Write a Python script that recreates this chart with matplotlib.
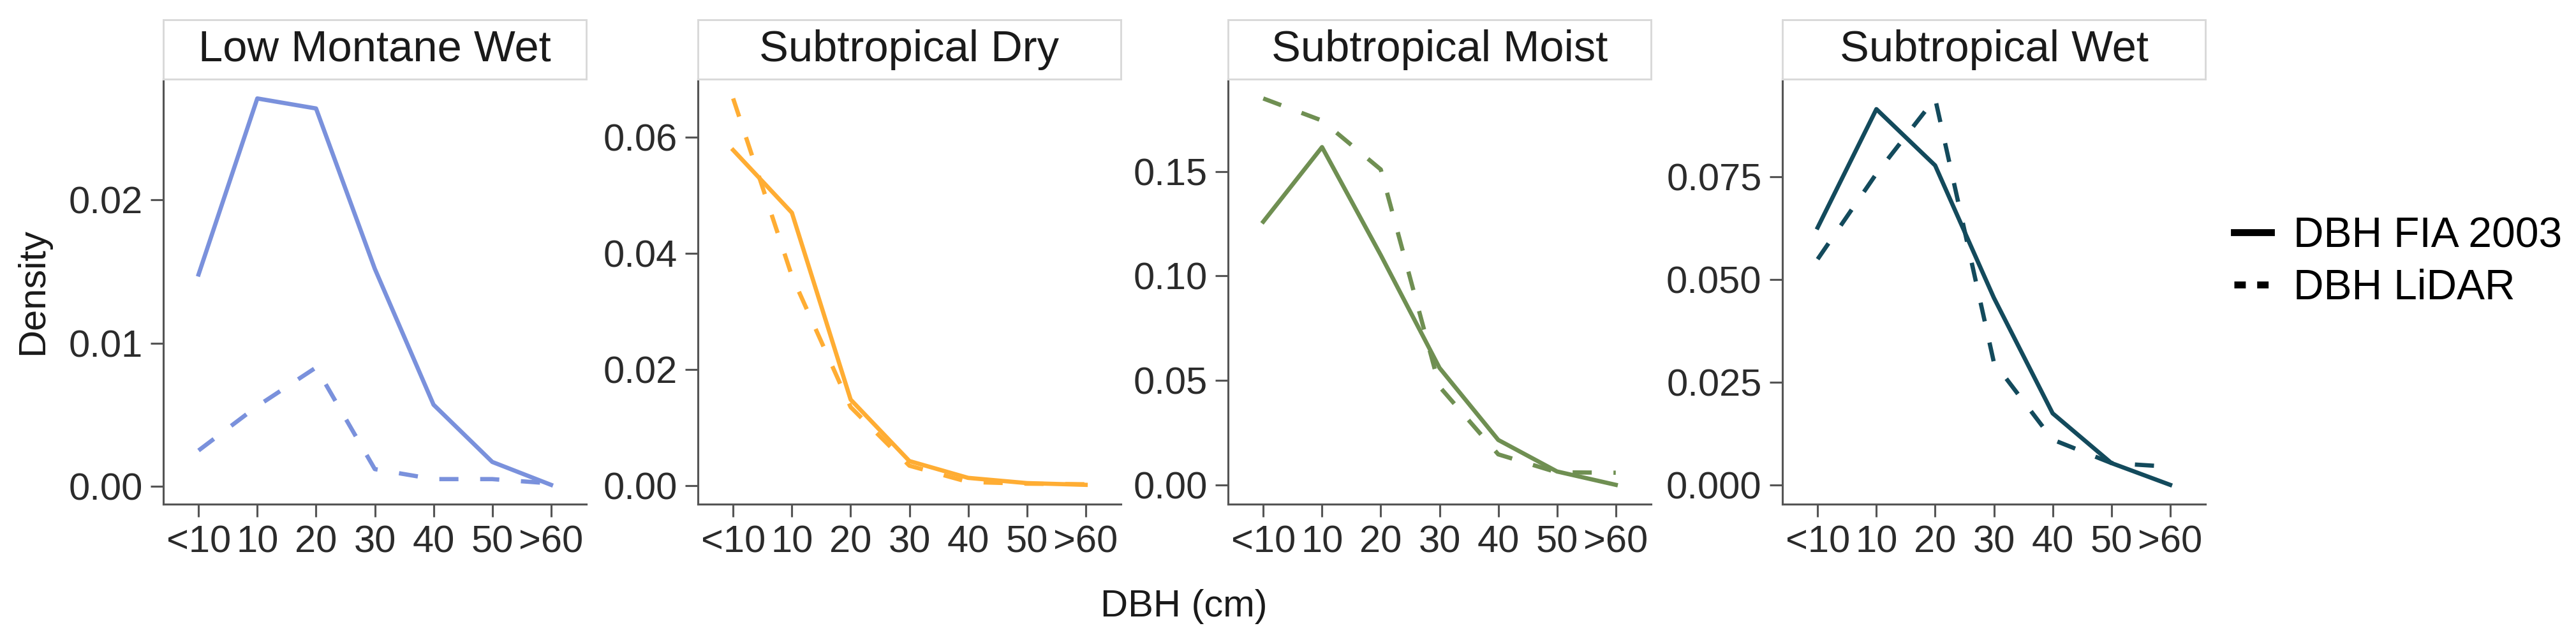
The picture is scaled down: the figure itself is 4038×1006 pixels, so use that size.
import matplotlib
matplotlib.use('Agg')
import matplotlib.pyplot as plt
from matplotlib.lines import Line2D
from matplotlib.ticker import FormatStrFormatter

plt.rcParams['font.family'] = ['Liberation Sans', 'DejaVu Sans']

# data
dbh_classes = ['<10', '10', '20', '30', '40', '50', '>60']
zones = ['Low Montane Wet', 'Subtropical Dry', 'Subtropical Moist', 'Subtropical Wet']

fia_low_montane_wet = [0.0148, 0.0271, 0.0264, 0.0152, 0.0057, 0.0017, 0.0001]
lidar_low_montane_wet = [0.0025, 0.0056, 0.0083, 0.0012, 0.0005, 0.0005, 0.0002]

fia_subtropical_dry = [0.0578, 0.0470, 0.0148, 0.0042, 0.0013, 0.0004, 0.0001]
lidar_subtropical_dry = [0.0667, 0.0361, 0.0135, 0.0034, 0.0006, 0.0003, 0.0002]

fia_subtropical_moist = [0.126, 0.1617, 0.110, 0.056, 0.0215, 0.0064, 0.0]
lidar_subtropical_moist = [0.185, 0.1744, 0.151, 0.047, 0.0146, 0.0060, 0.0058]

fia_subtropical_wet = [0.0626, 0.0914, 0.0777, 0.0455, 0.0174, 0.0053, 0.0]
lidar_subtropical_wet = [0.0549, 0.0757, 0.0940, 0.0298, 0.0110, 0.0053, 0.0044]

fia_series = [fia_low_montane_wet, fia_subtropical_dry, fia_subtropical_moist, fia_subtropical_wet]
lidar_series = [lidar_low_montane_wet, lidar_subtropical_dry, lidar_subtropical_moist, lidar_subtropical_wet]

y_ticks = [
    [0.00, 0.01, 0.02],
    [0.00, 0.02, 0.04, 0.06],
    [0.00, 0.05, 0.10, 0.15],
    [0.000, 0.025, 0.050, 0.075],
]
y_formats = ['%.2f', '%.2f', '%.2f', '%.3f']
zone_colors = ['#7a91dc', '#ffad33', '#6f8f52', '#134a5c']

legend_labels = ['DBH FIA 2003', 'DBH LiDAR']

# layout in pixels of the 4038x1006 picture
W, H = 4038, 1006
DPI = 300
panel_left = [256, 1094, 1925, 2794]
panel_w = 663
panel_top, panel_bottom = 124, 790
strip_top = 31

axis_col = '#555555'
lw = 1.6
dash = (0, (4.5, 5.1))

fig = plt.figure(figsize=(W / DPI, H / DPI), dpi=DPI)

x = list(range(len(dbh_classes)))
for i, zone in enumerate(zones):
    l = panel_left[i]
    ax = fig.add_axes([l / W, 1 - panel_bottom / H, panel_w / W, (panel_bottom - panel_top) / H])
    col = zone_colors[i]
    ax.plot(x, fia_series[i], color=col, lw=lw, solid_joinstyle='round')
    ax.plot(x, lidar_series[i], color=col, lw=lw, linestyle=dash, dash_capstyle='butt')
    ax.set_xlim(-0.6, 6.6)
    ax.margins(y=0.05)
    ax.set_xticks(x)
    ax.set_xticklabels(dbh_classes)
    ax.set_yticks(y_ticks[i])
    ax.yaxis.set_major_formatter(FormatStrFormatter(y_formats[i]))
    for s in ['top', 'right']:
        ax.spines[s].set_visible(False)
    for s in ['left', 'bottom']:
        ax.spines[s].set_color(axis_col)
        ax.spines[s].set_linewidth(0.75)
    ax.tick_params(direction='out', length=4.8, width=0.75, color=axis_col,
                   labelsize=14.3, labelcolor='#2b2b2b', pad=3)

    # facet strip
    sax = fig.add_axes([l / W, 1 - panel_top / H, panel_w / W, (panel_top - strip_top) / H])
    sax.set_xticks([])
    sax.set_yticks([])
    for s in sax.spines.values():
        s.set_color('#d9d9d9')
        s.set_linewidth(0.7)
    sax.text(0.5, 0.5, zone, ha='center', va='center', fontsize=16.5,
             color='#1a1a1a', transform=sax.transAxes)

fig.text(1856 / W, 1 - 950 / H, 'DBH (cm)', ha='center', va='center', fontsize=14.3, color='#1a1a1a')
fig.text(52 / W, 1 - 457 / H, 'Density', ha='center', va='center', rotation=90,
         fontsize=14.3, color='#1a1a1a')

handles = [Line2D([], [], color='black', lw=2.6),
           Line2D([], [], color='black', lw=2.6, linestyle=(0, (1.65, 1.65)), dash_capstyle='butt')]
fig.legend(handles, legend_labels, loc='center left', bbox_to_anchor=(3502 / W, 1 - 411 / H),
           frameon=False, borderpad=0, borderaxespad=0, fontsize=15.8,
           handlelength=0.88, handletextpad=0.53, labelspacing=0.3)

fig.savefig('out.png', dpi=DPI, facecolor='white')
